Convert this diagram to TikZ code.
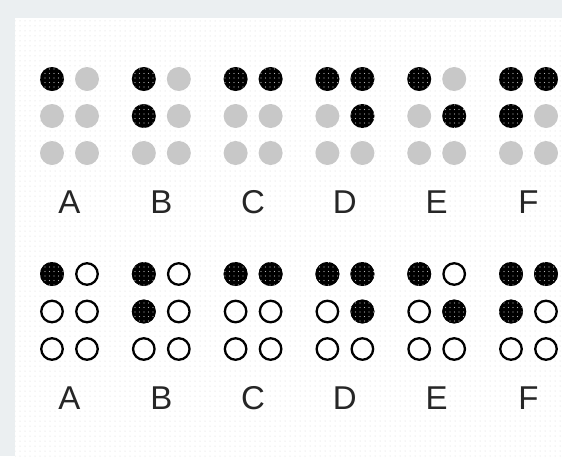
\documentclass[tikz,border=0pt]{standalone}
\usepackage{fontspec}
\setmainfont{Liberation Sans}
\usetikzlibrary{patterns.meta}
\definecolor{framegrey}{HTML}{EBEFF1}
\definecolor{flatgrey}{HTML}{C8C8C8}
\tikzset{
  braille/.style={circle, inner sep=0pt, minimum size=24pt},
  dotblack/.style={braille, fill=black,
    postaction={pattern={Dots[distance=4.5pt,radius=0.6pt]}, pattern color=white!70!black}},
  dotgrey/.style={braille, fill=flatgrey},
  dotopen/.style={braille, draw=black, line width=2.3pt, minimum size=21.5pt},
  letter/.style={anchor=base, inner sep=0pt, font=\fontsize{33}{33}\selectfont, text=black!85}
}
\begin{document}
\begin{tikzpicture}[x=1pt,y=-1pt]
    % frame and paper
    \fill[framegrey] (0,0) rectangle (562,456);
    \fill[white] (15,18) rectangle (562,456);
    \fill[pattern={Dots[distance=5pt,radius=0.5pt]}, pattern color=black!16]
    (15,18) rectangle (562,456);
    % braille cells, flat row on top, embossed row below
    \foreach \ltr/\pts [count=\i from 0] in {A/{1}, B/{1,2}, C/{1,4}, D/{1,4,5}, E/{1,5}, F/{1,2,4}} {
        \pgfmathsetmacro{\cx}{52+91.8*\i}
        % empty dots
        \foreach \c in {0,1}
        \foreach \r in {0,1,2} {
            \node[dotgrey] (g-\ltr-\c\r) at (\cx+35*\c, 79+37*\r) {};
            \node[dotopen] (o-\ltr-\c\r) at (\cx+35*\c, 274+37.5*\r) {};
        }
        % raised dots
        \foreach \k in \pts {
            \pgfmathtruncatemacro{\col}{(\k>3)}
            \pgfmathtruncatemacro{\row}{mod(\k-1,3)}
            \node[dotblack] (tb-\ltr-\k) at (\cx+35*\col, 79+37*\row) {};
            \node[dotblack] (bb-\ltr-\k) at (\cx+35*\col, 274+37.5*\row) {};
        }
        % letters
        \node[letter] (top-\ltr) at (\cx+17.5, 213) {\ltr};
        \node[letter] (bot-\ltr) at (\cx+17.5, 409) {\ltr};
    }
\end{tikzpicture}
\end{document}
